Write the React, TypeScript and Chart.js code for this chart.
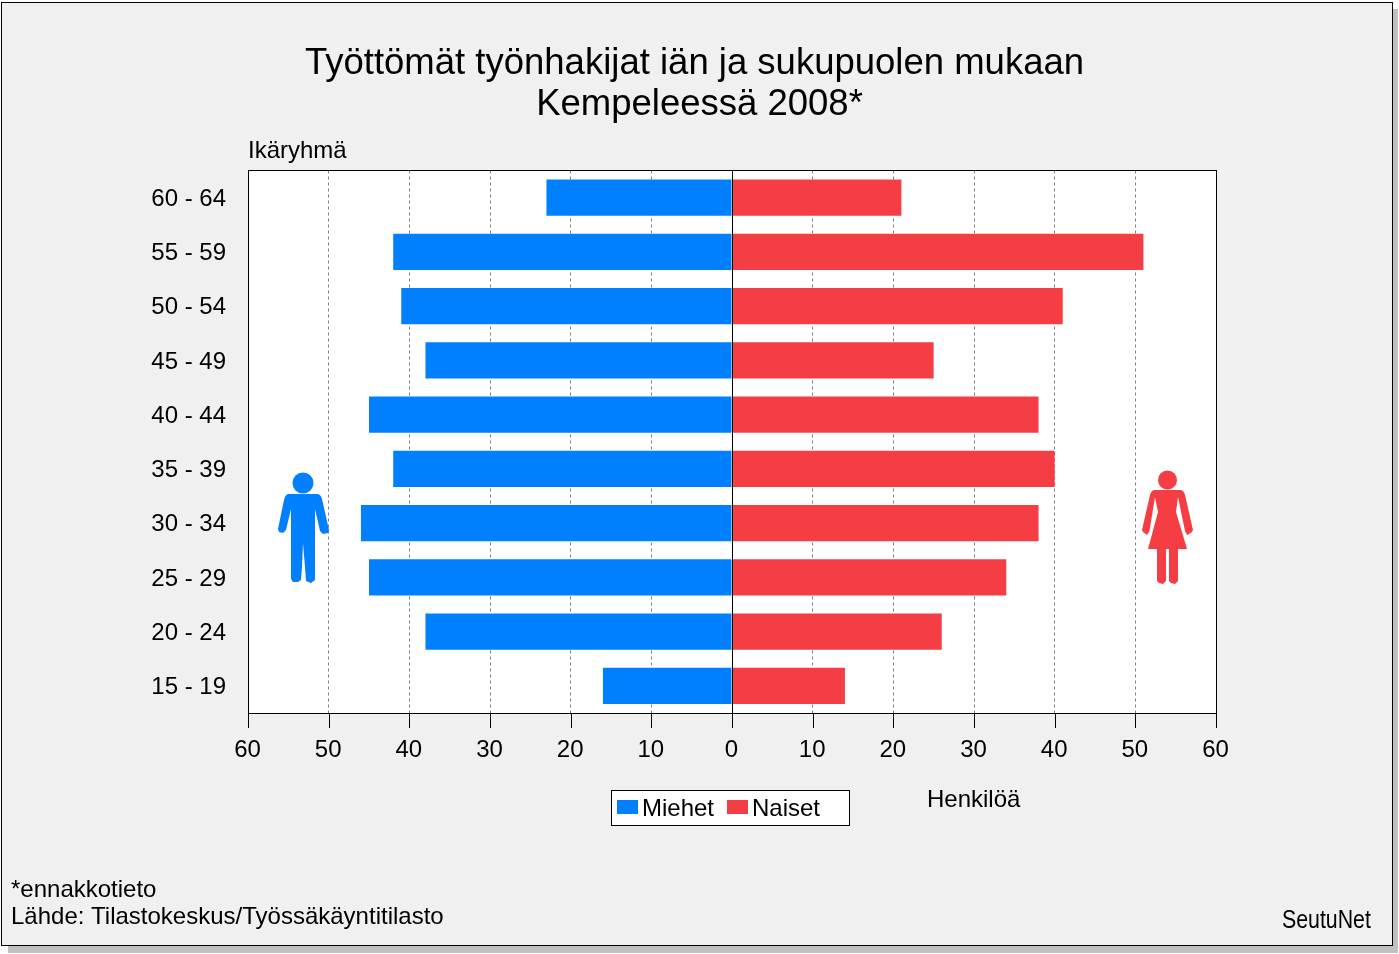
import React, { useEffect, useRef } from "react";
import { Chart, registerables } from "chart.js";

Chart.register(...registerables);

const categories = ["60 - 64", "55 - 59", "50 - 54", "45 - 49", "40 - 44", "35 - 39", "30 - 34", "25 - 29", "20 - 24", "15 - 19"];
const menValues = [23, 42, 41, 38, 45, 42, 46, 45, 38, 16];
const womenValues = [21, 51, 41, 25, 38, 40, 38, 34, 26, 14];
const seriesNames = ["Miehet", "Naiset"];
const titleLines = ["Työttömät työnhakijat iän ja sukupuolen mukaan", "Kempeleessä 2008*"];
const footnotes = ["*ennakkotieto", "Lähde: Tilastokeskus/Työssäkäyntitilasto"];

const BLUE = "#0080ff";
const RED = "#f43e44";
const FONT = '"Liberation Sans", Arial, sans-serif';

const W = 1399, H = 954;
const PLOT = { l: 248, r: 1216, t: 170, b: 713 };

function drawMan(c: CanvasRenderingContext2D) {
  c.fillStyle = BLUE;
  c.beginPath(); c.arc(303, 483, 10.5, 0, Math.PI * 2); c.fill();
  c.beginPath();
  c.moveTo(288, 494); c.lineTo(318, 494); c.quadraticCurveTo(321, 495, 322, 499);
  c.lineTo(329, 530); c.lineTo(328, 533); c.lineTo(323, 534); c.lineTo(320, 531);
  c.lineTo(315, 509); c.lineTo(315, 580); c.lineTo(311, 583); c.lineTo(306, 581); c.lineTo(305, 567);
  c.lineTo(303, 543); c.lineTo(302, 567); c.lineTo(301, 580); c.lineTo(298, 582); c.lineTo(293, 582); c.lineTo(291, 579);
  c.lineTo(291, 509); c.lineTo(286, 530); c.lineTo(283, 533); c.lineTo(279, 532); c.lineTo(278, 529);
  c.lineTo(284, 500); c.quadraticCurveTo(285, 495, 288, 494);
  c.closePath(); c.fill();
}

function drawWoman(c: CanvasRenderingContext2D) {
  c.fillStyle = RED;
  c.beginPath(); c.arc(1167.5, 480, 9.5, 0, Math.PI * 2); c.fill();
  c.beginPath();
  c.moveTo(1154, 490); c.lineTo(1181, 490); c.quadraticCurveTo(1184, 491, 1185, 495);
  c.lineTo(1193, 530); c.lineTo(1191, 533); c.lineTo(1187, 535); c.lineTo(1185, 531);
  c.lineTo(1178, 497); c.lineTo(1176, 512); c.lineTo(1187, 549);
  c.lineTo(1178, 549); c.lineTo(1178, 581); c.lineTo(1175, 584); c.lineTo(1171, 583); c.lineTo(1169, 581); c.lineTo(1169, 549);
  c.lineTo(1166, 549); c.lineTo(1166, 581); c.lineTo(1163, 584); c.lineTo(1159, 583); c.lineTo(1157, 581); c.lineTo(1157, 549);
  c.lineTo(1148, 549); c.lineTo(1158, 512); c.lineTo(1155, 497);
  c.lineTo(1149.5, 531); c.lineTo(1147, 535); c.lineTo(1143, 532); c.lineTo(1142, 530);
  c.lineTo(1150, 495); c.quadraticCurveTo(1151, 491, 1154, 490);
  c.closePath(); c.fill();
}

const backdrop = {
  id: "backdrop",
  beforeDraw(chart: Chart) {
    const c = chart.ctx;
    c.save();
    c.fillStyle = "#ffffff"; c.fillRect(0, 0, W, H);
    c.fillStyle = "#c0c0c0"; c.fillRect(8, 9, 1390, 944);
    c.fillStyle = "#000000"; c.fillRect(1, 2, 1392, 944);
    c.fillStyle = "#f0f0f0"; c.fillRect(2, 3, 1390, 942);
    c.fillStyle = "#ffffff"; c.fillRect(PLOT.l, PLOT.t, PLOT.r - PLOT.l, PLOT.b - PLOT.t);
    c.restore();
  },
};

const overlay = {
  id: "overlay",
  afterDraw(chart: Chart) {
    const c = chart.ctx;
    c.save();
    c.fillStyle = "#000"; c.textBaseline = "alphabetic"; c.textAlign = "center";
    c.font = `36.5px ${FONT}`;
    c.fillText(titleLines[0], 694.5, 74);
    c.fillText(titleLines[1], 699.5, 115);

    c.font = `24px ${FONT}`;
    c.textAlign = "left";
    c.fillText("Ikäryhmä", 248, 158);
    c.fillText("Henkilöä", 927, 807);
    c.fillText(footnotes[0], 11, 897);
    c.fillText(footnotes[1], 11, 924);

    // legend
    c.fillStyle = "#fff"; c.fillRect(611.5, 790.5, 238, 35);
    c.strokeStyle = "#000"; c.lineWidth = 1; c.strokeRect(611.5, 790.5, 238, 35);
    c.fillStyle = BLUE; c.fillRect(617, 800, 21, 14);
    c.fillStyle = RED; c.fillRect(727, 800, 21, 14);
    c.fillStyle = "#000";
    c.fillText(seriesNames[0], 642, 816);
    c.fillText(seriesNames[1], 752, 816);

    // condensed signature
    c.save();
    c.translate(1282, 928);
    c.scale(0.82, 1);
    c.font = `26px ${FONT}`;
    c.fillText("SeutuNet", 0, 0);
    c.restore();

    drawMan(c);
    drawWoman(c);
    c.restore();
  },
};

export default function App() {
  const ref = useRef<HTMLCanvasElement>(null);
  useEffect(() => {
    document.body.style.margin = "0";
    const chart = new Chart(ref.current as HTMLCanvasElement, {
      type: "bar",
      data: {
        labels: categories,
        datasets: [
          { label: seriesNames[0], data: menValues.map((v) => -v), backgroundColor: BLUE, barPercentage: 0.672, categoryPercentage: 1 },
          { label: seriesNames[1], data: womenValues, backgroundColor: RED, barPercentage: 0.672, categoryPercentage: 1 },
        ],
      },
      options: {
        indexAxis: "y",
        responsive: false,
        animation: false,
        layout: { padding: { left: 0, top: PLOT.t + 0.5, right: W - PLOT.r, bottom: 0 } },
        plugins: { legend: { display: false }, title: { display: false }, tooltip: { enabled: false } },
        scales: {
          x: {
            stacked: true,
            min: -60,
            max: 60,
            afterFit(s: any) { s.height = H - PLOT.b; },
            border: { display: false, dash: [3, 3] },
            grid: {
              color: "#808080",
              lineWidth: 1,
              drawTicks: false,
              tickLength: 0,
            },
            ticks: {
              stepSize: 10,
              autoSkip: false,
              maxRotation: 0,
              color: "#000",
              padding: 23,
              labelOffset: -0.5,
              font: { family: "Liberation Sans", size: 24 },
              callback: (v: any) => String(Math.abs(Number(v))),
            },
          },
          y: {
            stacked: true,
            afterFit(s: any) { s.width = PLOT.l; },
            border: { display: false },
            grid: { display: false },
            ticks: {
              color: "#000",
              padding: 14,
              autoSkip: false,
              labelOffset: 1.5,
              font: { family: "Liberation Sans", size: 24 },
            },
          },
        },
      } as any,
      plugins: [
        backdrop,
        {
          id: "frameAndTicks",
          afterDatasetsDraw(ch: Chart) {
            const c = ch.ctx;
            const x = ch.scales.x;
            c.save();
            c.strokeStyle = "#000"; c.lineWidth = 1;
            c.strokeRect(PLOT.l + 0.5, PLOT.t + 0.5, PLOT.r - PLOT.l, PLOT.b - PLOT.t);
            x.ticks.forEach((t: any) => {
              const px = Math.round(x.getPixelForValue(t.value)) + 0.5;
              c.beginPath(); c.moveTo(px, PLOT.b); c.lineTo(px, PLOT.b + 15); c.stroke();
            });
            const zero = Math.round(x.getPixelForValue(0)) + 0.5;
            c.beginPath(); c.moveTo(zero, PLOT.t); c.lineTo(zero, PLOT.b); c.stroke();
            c.restore();
          },
        },
        overlay,
      ],
    });
    return () => chart.destroy();
  }, []);
  return <canvas ref={ref} width={W} height={H} style={{ display: "block", position: "absolute", left: 0, top: 0 }} />;
}
